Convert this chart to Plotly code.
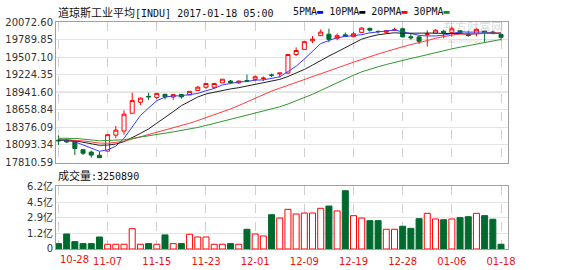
import plotly.graph_objects as go
import pandas as pd

# ---------------- data ----------------
dates = ["10-28","10-31","11-01","11-02","11-03","11-04","11-07","11-08","11-09","11-10",
         "11-11","11-14","11-15","11-16","11-17","11-18","11-21","11-22","11-23","11-24",
         "11-25","11-28","11-29","11-30","12-01","12-02","12-05","12-06","12-07","12-08",
         "12-09","12-12","12-13","12-14","12-15","12-16","12-19","12-20","12-21","12-22",
         "12-23","12-27","12-28","12-29","12-30","01-03","01-04","01-05","01-06","01-09",
         "01-10","01-11","01-12","01-13","01-18"]

opens = [18170,18176,18158,18017,17979,17928,17994,18251,18317,18603,
         18781,18876,18858,18909,18866,18905,18898,18970,19022,19022,
         19093,19122,19092,19131,19149,19163,19220,19238,19251,19548,
         19631,19770,19852,19876,19811,19866,19836,19906,19969,19922,
         19908,19943,19964,19835,19833,19872,19890,19924,19906,19931,
         19876,19887,19926,19912,19872]
highs = [18245,18194,18176,18017,18001,17986,18263,18400,18650,18934,
         18855,18934,18925,18909,18904,18915,18956,19043,19083,19083,
         19152,19138,19131,19225,19214,19195,19241,19252,19549,19664,
         19757,19846,19953,19966,19888,19904,19917,19987,19984,19936,
         19933,19980,19981,19878,19853,19938,19956,19948,19999,19943,
         19934,19973,19926,19932,19890]
lows = [18094,18126,17931,17931,17887,17883,17994,18200,18260,18603,
        18736,18815,18831,18825,18819,18839,18898,18962,18996,18996,
        19093,19084,19076,19123,19122,19122,19186,19180,19237,19528,
        19631,19736,19846,19748,19779,19833,19823,19902,19917,19886,
        19886,19939,19827,19788,19718,19677,19890,19811,19834,19887,
        19835,19843,19749,19878,19775]
closes = [18161,18142,18037,17959,17930,17888,18259,18332,18589,18807,
          18847,18868,18923,18868,18903,18867,18956,19023,19083,19083,
          19152,19097,19121,19123,19191,19170,19216,19251,19549,19614,
          19756,19796,19911,19792,19852,19843,19883,19974,19941,19918,
          19933,19945,19833,19819,19762,19881,19942,19899,19963,19887,
          19855,19954,19891,19885,19826]

# closes before the first visible day (needed for the moving averages)
prior_closes = [18120,18130,18294,18392,18261,18095,18228,18339,18143,18308,
                18254,18168,18281,18268,18240,18329,18129,18144,18099,18138,
                18086,18162,18203,18162,18146,18223,18169,18199,18170]

# volume in 亿 (hundred millions)
volumes = [0.10,1.12,0.31,0.10,0.10,0.80,0.03,0.03,0.03,1.68,
           0.03,0.10,0.03,1.02,0.10,0.10,1.09,0.80,0.80,0.03,
           0.03,0.10,0.03,1.62,1.12,0.91,3.16,2.81,3.73,3.24,
           3.34,3.34,3.84,4.08,3.56,5.70,3.06,2.81,2.53,2.53,
           1.62,1.62,1.94,1.72,2.74,3.31,2.71,2.63,2.71,2.85,
           2.95,3.31,3.06,2.68,0.0325]

price_ticks = [20072.60,19789.85,19507.10,19224.35,18941.60,18658.84,18376.09,18093.34,17810.59]
price_tick_text = ["20072.60","19789.85","19507.10","19224.35","18941.60",
                   "18658.84","18376.09","18093.34","17810.59"]
vol_axis_min = -0.47
vol_ticks = [vol_axis_min, 1.2, 2.9, 4.5, 6.2]
vol_tick_text = ["0", "1.2亿", "2.9亿", "4.5亿", "6.2亿"]

ma_periods = [5, 10, 20, 30]
ma_names = ["5PMA", "10PMA", "20PMA", "30PMA"]
ma_colors = ["#3a3aff", "#222222", "#ff3b3b", "#2f972f"]
legend_colors = ["#0000ff", "#000000", "#ff0000", "#009900"]

title_cn = "道琼斯工业平均"
title_rest = "[INDU] 2017-01-18 05:00"
vol_label_cn = "成交量"
vol_label_rest = ":3250890"

RED = "#ff0000"
GREEN = "#006a2e"

# ---------------- figure ----------------
fig = go.Figure()

fig.add_trace(go.Candlestick(
    x=dates, open=opens, high=highs, low=lows, close=closes,
    increasing=dict(line=dict(color=RED, width=1), fillcolor="#ffffff"),
    decreasing=dict(line=dict(color=GREEN, width=1), fillcolor=GREEN),
    whiskerwidth=0, showlegend=False, hoverinfo="skip",
    xaxis="x", yaxis="y"))

all_closes = pd.Series(prior_closes + closes, dtype=float)
n_prior = len(prior_closes)
for p, name, col in zip(ma_periods, ma_names, ma_colors):
    ma = all_closes.rolling(p).mean().iloc[n_prior:].tolist()
    fig.add_trace(go.Scatter(x=dates, y=ma, mode="lines", name=name,
                             line=dict(color=col, width=1), showlegend=False,
                             hoverinfo="skip", xaxis="x", yaxis="y"))

up = [c >= o for o, c in zip(opens, closes)]
fig.add_trace(go.Bar(
    x=dates, y=[v - vol_axis_min for v in volumes], base=vol_axis_min,
    marker=dict(color=["#ffffff" if u else GREEN for u in up],
                line=dict(color=[RED if u else GREEN for u in up], width=1)),
    showlegend=False, hoverinfo="skip", xaxis="x2", yaxis="y2"))

tick_idx = list(range(0, len(dates), 6))
tick_vals = [dates[i] for i in tick_idx]
tick_text = [dates[i] for i in tick_idx]
first_label = tick_text[0]
tick_text[0] = ""   # first label drawn left-aligned at the panel edge (below)

axis_font = dict(family="DejaVu Sans", size=10, color="#333333")
frame = dict(showline=True, linecolor="#a0a0a0", linewidth=1, mirror=True, automargin=False)
xrange = [-0.3, len(dates) - 0.15]
x_label_font = dict(family="DejaVu Sans", size=10, color="#ee1111")

fig.update_layout(
    width=561, height=270,
    margin=dict(l=56, r=53, t=22, b=21),
    paper_bgcolor="white", plot_bgcolor="white",
    bargap=0.27,
    xaxis=dict(domain=[0, 1], anchor="y", type="category", range=xrange,
               tickvals=tick_vals, showticklabels=False, ticks="",
               showgrid=True, gridcolor="#cfcfcf", griddash="dash", gridwidth=1,
               rangeslider=dict(visible=False), zeroline=False, **frame),
    xaxis2=dict(domain=[0, 1], anchor="y2", type="category", range=xrange,
                matches="x", tickvals=tick_vals, ticktext=tick_text, ticks="",
                tickfont=x_label_font, ticklabelstandoff=3,
                showgrid=True, gridcolor="#cfcfcf", griddash="dash", gridwidth=1,
                zeroline=False, **frame),
    yaxis=dict(domain=[0.381, 1], anchor="x", range=[price_ticks[-1], price_ticks[0]],
               tickvals=price_ticks, ticktext=price_tick_text, ticks="",
               tickfont=axis_font, showgrid=True, gridcolor="#e3e3e3",
               zeroline=False, **frame),
    yaxis2=dict(domain=[0, 0.2775], anchor="x2", range=[vol_axis_min, vol_ticks[-1]],
                tickvals=vol_ticks, ticktext=vol_tick_text, ticks="",
                tickfont=dict(family="DejaVu Sans, Noto Sans CJK SC", size=10, color="#333333"),
                showgrid=True, gridcolor="#e3e3e3", zeroline=False, **frame),
)

# darker middle line of the price panel
fig.add_shape(type="line", xref="x domain", yref="y", x0=0, x1=1,
              y0=price_ticks[4], y1=price_ticks[4],
              line=dict(color="#a8a8a8", width=1), layer="below")

# first date label, left-aligned at the panel edge as in the reference
fig.add_annotation(xref="x2", yref="paper", x=dates[0], y=-10 / 227,
                   xanchor="left", yanchor="middle", showarrow=False,
                   text=first_label, font=x_label_font)

cn = '<span style="font-family:Noto Sans CJK SC;font-size:11px">%s</span>'
fig.add_annotation(xref="paper", yref="paper", x=0.0, y=1.046, xanchor="left",
                   yanchor="middle", showarrow=False,
                   text=(cn % title_cn) + title_rest,
                   font=dict(family="DejaVu Sans Mono", size=10, color="#111111"))

legend_text = " ".join(
    '%s<span style="color:%s">▬</span>' % (n, c) for n, c in zip(ma_names, legend_colors))
fig.add_annotation(xref="paper", yref="paper", x=(291 - 56) / 452, y=1.046,
                   xanchor="left", yanchor="middle", showarrow=False,
                   text=legend_text,
                   font=dict(family="DejaVu Sans Mono", size=10, color="#111111"))

fig.add_annotation(xref="paper", yref="paper", x=0.0, y=(249 - 175) / 227,
                   xanchor="left", yanchor="middle", showarrow=False,
                   text=(cn % vol_label_cn) + vol_label_rest,
                   font=dict(family="DejaVu Sans Mono", size=10, color="#111111"))

# watermark
fig.add_annotation(xref="paper", yref="paper", x=(505 - 56) / 452, y=(249 - 27) / 227,
                   xanchor="right", yanchor="middle", showarrow=False,
                   text="东方财富网",
                   font=dict(family="Noto Sans CJK SC", size=12, color="rgba(150,150,150,0.35)"))
fig.add_annotation(xref="paper", yref="paper", x=(497 - 56) / 452, y=(249 - 41) / 227,
                   xanchor="right", yanchor="middle", showarrow=False,
                   text="eastmoney.com",
                   font=dict(family="DejaVu Sans", size=6, color="rgba(150,150,150,0.35)"))

fig.write_html("out.html")
